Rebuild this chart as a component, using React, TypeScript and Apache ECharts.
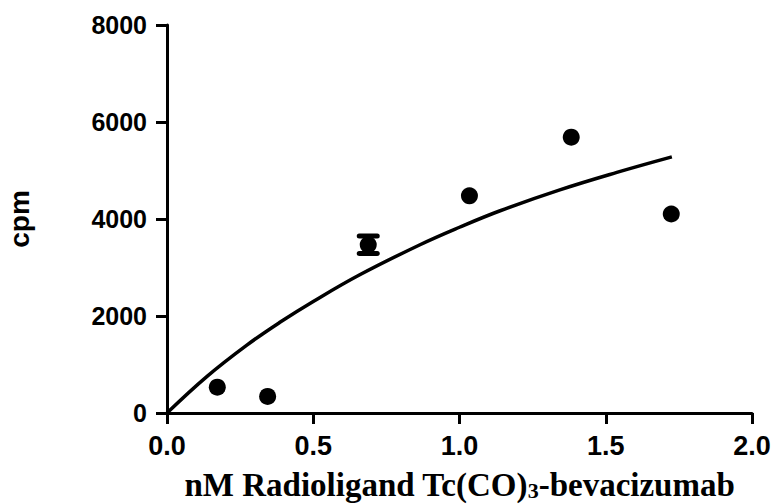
import React, { useEffect, useRef } from "react";
import * as echarts from "echarts";

const pointX = [0.172, 0.344, 0.688, 1.034, 1.382, 1.724];
const pointY = [533, 341, 3467, 4478, 5688, 4103];

const errX = [0.688];
const errLow = [3290];
const errHigh = [3650];

const curveX = [0, 0.136, 0.273, 0.386, 0.5, 0.659, 0.865, 1.0, 1.139, 1.343, 1.538, 1.726];
const curveY = [0, 751, 1400, 1870, 2300, 2850, 3470, 3830, 4170, 4600, 4960, 5280];

const xTicks = { min: 0, max: 2, interval: 0.5 };
const yTicks = { min: 0, max: 8000, interval: 2000 };

export default function App() {
  const ref = useRef<HTMLDivElement>(null);
  useEffect(() => {
    if (!ref.current) return;
    const chart = echarts.init(ref.current, null, { renderer: "svg" });
    const axisCommon = {
      axisLine: { show: true, lineStyle: { color: "#000", width: 3 } },
      axisTick: { show: true, length: 11, lineStyle: { color: "#000", width: 3 } },
      splitLine: { show: false },
    };
    chart.setOption({
      animation: false,
      backgroundColor: "#fff",
      grid: { left: 167, right: 21, top: 25, bottom: 91, containLabel: false, outerBoundsMode: "none" },
      xAxis: {
        type: "value",
        ...xTicks,
        ...axisCommon,
        axisLabel: {
          margin: 19,
          color: "#000",
          fontFamily: "Liberation Sans",
          fontWeight: "bold",
          fontSize: 27,
          formatter: (v: number) => v.toFixed(1),
        },
        name: "{a|nM Radioligand Tc(CO)}{s|3}{a|-bevacizumab}",
        nameLocation: "middle",
        nameGap: 54,
        nameTextStyle: {
          rich: {
            a: { fontFamily: "Liberation Serif", fontWeight: "bold", fontSize: 33, color: "#000", verticalAlign: "bottom", lineHeight: 34 },
            s: { fontFamily: "Liberation Serif", fontWeight: "bold", fontSize: 22, color: "#000", verticalAlign: "bottom", lineHeight: 26 },
          },
        },
      },
      yAxis: {
        type: "value",
        ...yTicks,
        ...axisCommon,
        axisLabel: {
          margin: 20,
          color: "#000",
          fontFamily: "Liberation Sans",
          fontWeight: "bold",
          fontSize: 25,
          formatter: (v: number) => String(v),
        },
        name: "cpm",
        nameLocation: "middle",
        nameRotate: 90,
        nameGap: 134,
        nameTextStyle: {
          fontFamily: "Liberation Sans",
          fontWeight: "bold",
          fontSize: 28,
          color: "#000",
        },
      },
      series: [
        {
          type: "line",
          data: curveX.map((x, i) => [x, curveY[i]]),
          smooth: 0.4,
          symbol: "none",
          lineStyle: { color: "#000", width: 3.5 },
          z: 2,
        },
        {
          type: "custom",
          data: errX.map((x, i) => [x, errLow[i], errHigh[i]]),
          renderItem: (params: any, api: any) => {
            const lo = api.coord([api.value(0), api.value(1)]);
            const hi = api.coord([api.value(0), api.value(2)]);
            const hw = 9;
            const style = { stroke: "#000", lineWidth: 5 };
            return {
              type: "group",
              children: [
                { type: "line", shape: { x1: lo[0], y1: lo[1], x2: hi[0], y2: hi[1] }, style },
                { type: "line", shape: { x1: lo[0] - hw, y1: lo[1], x2: lo[0] + hw, y2: lo[1] }, style: { ...style, lineCap: "round" } },
                { type: "line", shape: { x1: hi[0] - hw, y1: hi[1], x2: hi[0] + hw, y2: hi[1] }, style: { ...style, lineCap: "round" } },
              ],
            };
          },
          z: 3,
        },
        {
          type: "scatter",
          data: pointX.map((x, i) => [x, pointY[i]]),
          symbol: "circle",
          symbolSize: 17,
          itemStyle: { color: "#000", opacity: 1 },
          z: 4,
        },
      ],
    });
    return () => chart.dispose();
  }, []);
  return (
    <div
      ref={ref}
      style={{ position: "fixed", left: 0, top: 0, width: 773, height: 504, background: "#fff" }}
    />
  );
}
